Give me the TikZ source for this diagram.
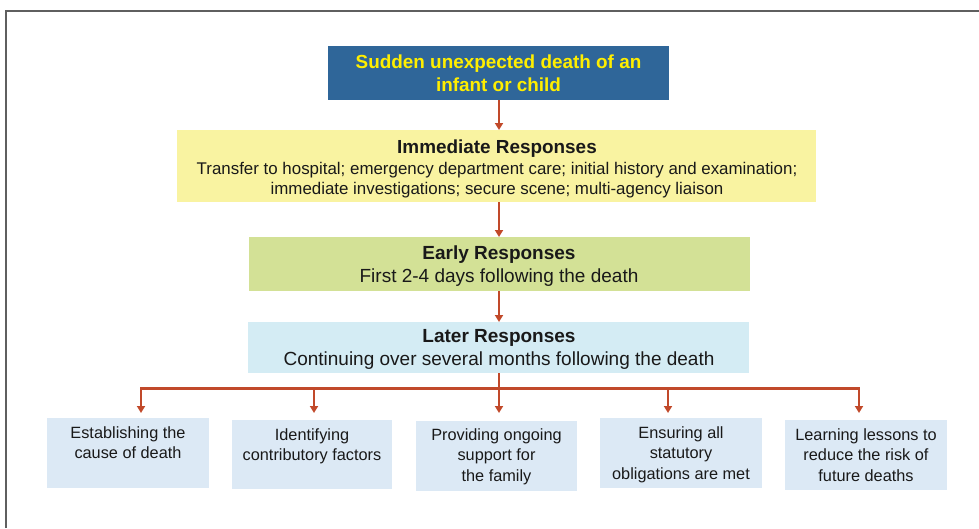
\documentclass[tikz,border=0pt]{standalone}
\usepackage{fontspec}
\setmainfont{Liberation Sans}
\usetikzlibrary{arrows.meta}
\definecolor{topblue}{RGB}{47,102,153}
\definecolor{topyellow}{RGB}{255,238,0}
\definecolor{immyellow}{RGB}{249,243,161}
\definecolor{earlygreen}{RGB}{211,225,150}
\definecolor{laterblue}{RGB}{212,236,244}
\definecolor{leafblue}{RGB}{220,233,245}
\definecolor{arrowred}{RGB}{193,73,42}
\definecolor{framegray}{RGB}{95,95,95}
\definecolor{txt}{RGB}{25,25,25}
\tikzset{
  conn/.style={draw=arrowred, line width=2.2pt},
  arr/.style={conn, -{Triangle[length=7pt,width=8pt]}},
  leaftext/.style={anchor=north, align=center, text=txt, inner sep=0pt,
    font=\fontsize{16.3}{20.5}\selectfont},
}
\begin{document}
\begin{tikzpicture}[x=1pt,y=-1pt]
\useasboundingbox (0,0) rectangle (979,528);
% frame
\draw[framegray, line width=2pt] (5.5,528) -- (5.5,10.5) -- (979,10.5);

% top box
\fill[topblue] (328,46) rectangle (669,100);
\node[align=center, text=topyellow, inner sep=0pt,
  font=\bfseries\fontsize{18.9}{23}\selectfont] (top) at (498.5,73.5)
  {Sudden unexpected death of an\\infant or child};
\coordinate (topS) at (499,100);

% immediate
\fill[immyellow] (177,130) rectangle (816,202);
\node[align=center, text=txt, inner sep=0pt,
  font=\fontsize{16.9}{20}\selectfont] (imm) at (497,168.5)
  {{\bfseries\fontsize{18.9}{20}\selectfont Immediate Responses}\\[1pt]
   Transfer to hospital; emergency department care; initial history and examination;\\
   immediate investigations; secure scene; multi-agency liaison};
\coordinate (immN) at (499,130);
\coordinate (immS) at (499,202);

% early
\fill[earlygreen] (249,237) rectangle (750,291);
\node[align=center, text=txt, inner sep=0pt,
  font=\fontsize{19}{23}\selectfont] (early) at (499,266)
  {{\bfseries Early Responses}\\First 2-4 days following the death};
\coordinate (earlyN) at (499,237);
\coordinate (earlyS) at (499,291);

% later
\fill[laterblue] (248,322) rectangle (749,373);
\node[align=center, text=txt, inner sep=0pt,
  font=\fontsize{19}{23}\selectfont] (later) at (499,349)
  {{\bfseries Later Responses}\\Continuing over several months following the death};
\coordinate (laterN) at (499,322);
\coordinate (laterS) at (499,373);

% connectors
\draw[arr] (topS) -- (immN);
\draw[arr] (immS) -- (earlyN);
\draw[arr] (earlyS) -- (laterN);
\coordinate (bus) at (499,388.5);
\draw[conn] (laterS) -- (bus);
\coordinate (busL) at (141,388.5);
\coordinate (busR) at (859,388.5);
\draw[conn, line cap=rect] (busL) -- (busR);

% leaf boxes
\fill[leafblue] (47,418) rectangle (209,488);
\fill[leafblue] (232,420) rectangle (392,489);
\fill[leafblue] (416,421) rectangle (577,491);
\fill[leafblue] (600,418) rectangle (762,488);
\fill[leafblue] (785,420) rectangle (947,490);

\node[leaftext] (l1) at (128,426) {Establishing the\\cause of death};
\node[leaftext] (l2) at (312,428) {Identifying\\contributory factors};
\node[leaftext] (l3) at (496.5,428) {Providing ongoing\\support for\\the family};
\node[leaftext] (l4) at (681,426) {Ensuring all\\statutory\\obligations are met};
\node[leaftext] (l5) at (866,428) {Learning lessons to\\reduce the risk of\\future deaths};

\coordinate (t1) at (141,413);
\coordinate (t2) at (314,413);
\coordinate (t3) at (499,413);
\coordinate (t4) at (668,413);
\coordinate (t5) at (859,413);
\coordinate (b2) at (314,388.5);
\coordinate (b4) at (668,388.5);
\draw[arr] (busL) -- (t1);
\draw[arr] (b2) -- (t2);
\draw[arr] (bus) -- (t3);
\draw[arr] (b4) -- (t4);
\draw[arr] (busR) -- (t5);
\end{tikzpicture}
\end{document}
